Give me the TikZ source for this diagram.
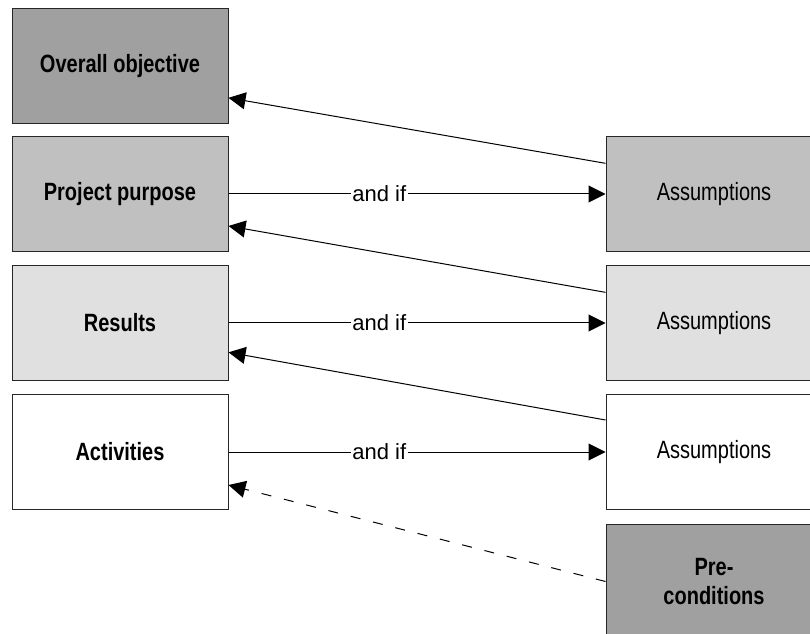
\documentclass[tikz,border=0pt]{standalone}
\usepackage{fontspec}
\setmainfont{Liberation Sans}
\newfontfamily\boxfont[FakeStretch=0.8]{Liberation Sans}
\usetikzlibrary{arrows.meta}

\definecolor{darkgrey}{RGB}{160,160,160}
\definecolor{midgrey}{RGB}{192,192,192}
\definecolor{lightgrey}{RGB}{224,224,224}

\tikzset{every picture/.style={line width=0.75pt}}
\tikzset{
  levelbox/.style={draw=black!85, minimum width=162pt, minimum height=86.25pt, inner sep=2pt,
    align=center, font=\boxfont\fontsize{18.75}{21.75}\selectfont},
  goalbox/.style={levelbox, font=\boxfont\fontsize{18.75}{21.75}\selectfont\bfseries},
  link/.style={-{Triangle[length=12.75pt,width=12.75pt]}},
  andif/.style={fill=white, inner sep=1pt, pos=0.4, font=\fontsize{16.5}{18}\selectfont}
}

\begin{document}
\begin{tikzpicture}[x=0.75pt,y=0.75pt,yscale=-1,xscale=1]
\useasboundingbox (0,0) rectangle (810,634);
\clip (0,0) rectangle (810,634);

%Shape: Rectangle, left column
\node [goalbox, fill=darkgrey] (obj) at (120,66.5) {Overall objective};
\node [goalbox, fill=midgrey] (purp) at (120,194) {Project purpose};
\node [goalbox, fill=lightgrey] (res) at (120,323) {Results};
\node [goalbox, fill=white] (act) at (120,452) {Activities};

%Shape: Rectangle, right column
\node [levelbox, fill=midgrey] (assA) at (714,194) {Assumptions};
\node [levelbox, fill=lightgrey] (assB) at (714,323) {Assumptions};
\node [levelbox, fill=white] (assC) at (714,452) {Assumptions};
\node [goalbox, fill=darkgrey] (pre) at (714,581.5) {Pre-\\conditions};

%Straight Lines, and if
\draw [link] (purp.east) -- node [andif] {and if} (assA.west);
\draw [link] (res.east) -- node [andif] {and if} (assB.west);
\draw [link] (act.east) -- node [andif] {and if} (assC.west);

%Straight Lines, back to left column
\draw [link] ([yshift=-23pt]assA.west) -- ([yshift=23.5pt]obj.east);
\draw [link] ([yshift=-23pt]assB.west) -- ([yshift=24pt]purp.east);
\draw [link] ([yshift=-24pt]assC.west) -- ([yshift=22pt]res.east);
\draw [link] [dash pattern={on 7.5pt off 9.75pt}] (pre.west) -- ([yshift=24.75pt]act.east);

\end{tikzpicture}
\end{document}
